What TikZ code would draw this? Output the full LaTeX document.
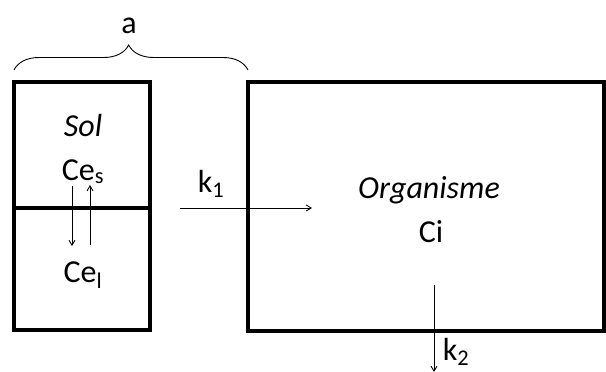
\documentclass[tikz,border=0pt]{standalone}
\usepackage{fontspec}
\setmainfont{Carlito}
\usetikzlibrary{decorations.pathreplacing,arrows.meta}
\begin{document}
\begin{tikzpicture}[x=1pt,y=-1pt,
  boxline/.style={line width=3.2pt},
  thinarrow/.style={line width=0.9pt,-{Straight Barb[length=5pt,width=6pt]}},
  lbl/.style={font=\fontsize{32}{36}\selectfont, inner sep=0pt, anchor=base}]
\useasboundingbox (0,0) rectangle (606,372);
% left box
\coordinate (L1) at (14,82);
\coordinate (L2) at (150,330);
\draw[boxline] (L1) rectangle (L2);
\coordinate (DL) at (14,208);
\coordinate (DR) at (150,208);
\draw[boxline] (DL) -- (DR);
% right box
\coordinate (R1) at (248,82);
\coordinate (R2) at (604,331);
\draw[boxline] (R1) rectangle (R2);
% brace
\coordinate (B1) at (14,70);
\coordinate (B2) at (248,70);
\draw[line width=0.9pt, decorate, decoration={brace, amplitude=25pt, aspect=0.49}] (B1) -- (B2);
\node[lbl] (a) at (129,33) {a};
% texts
\node[lbl] (sol) at (83,136) {\textit{Sol}};
\node[lbl] (ces) at (83,180) {Ce\textsubscript{s}};
\node[lbl] (cel) at (83,282) {Ce\textsubscript{l}};
\node[lbl] (org) at (429,198) {\textit{Organisme}};
\node[lbl] (ci) at (431,242) {Ci};
\node[lbl] (k1) at (211,192) {k\textsubscript{1}};
\node[lbl] (k2) at (456,360) {k\textsubscript{2}};
% arrows
\coordinate (d1) at (72,186);
\coordinate (d2) at (72,246);
\draw[thinarrow] (d1) -- (d2);
\coordinate (u1) at (90,245);
\coordinate (u2) at (90,185);
\draw[thinarrow] (u1) -- (u2);
\coordinate (k1s) at (180,208);
\coordinate (k1e) at (312,208);
\draw[thinarrow] (k1s) -- (k1e);
\coordinate (k2s) at (434,285);
\coordinate (k2e) at (434,372);
\draw[thinarrow] (k2s) -- (k2e);
\end{tikzpicture}
\end{document}
